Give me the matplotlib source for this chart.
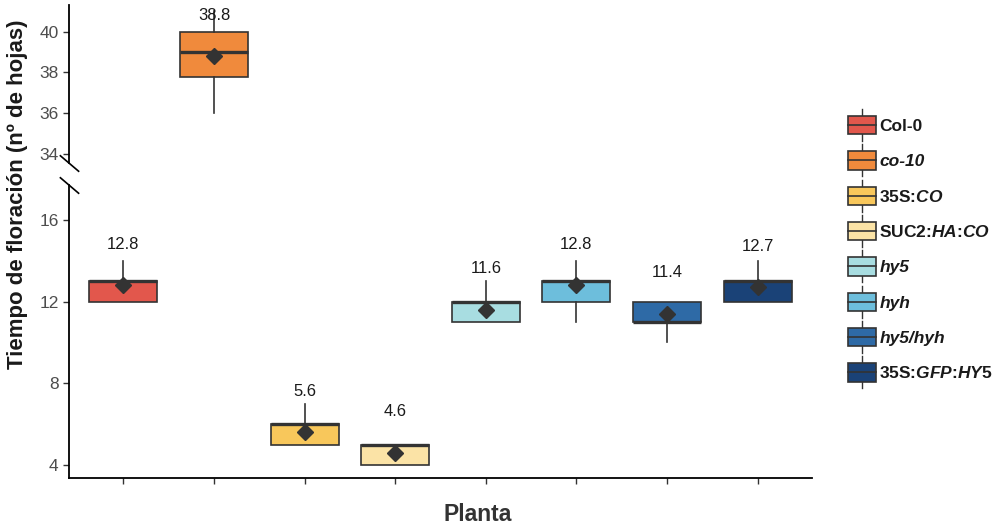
import numpy as np
import matplotlib
matplotlib.use("Agg")
import matplotlib.pyplot as plt
from matplotlib.legend_handler import HandlerBase
from matplotlib.patches import Rectangle
from matplotlib.lines import Line2D

plt.rcParams['font.family'] = ['Liberation Sans', 'DejaVu Sans']
plt.rcParams['mathtext.fontset'] = 'custom'
plt.rcParams['mathtext.rm'] = 'Liberation Sans:bold'
plt.rcParams['mathtext.it'] = 'Liberation Sans:italic:bold'
plt.rcParams['mathtext.bf'] = 'Liberation Sans:bold'

# data (leaves)
plantas = ['Col-0', 'co-10', '35S:CO', 'SUC2:HA:CO', 'hy5', 'hyh', 'hy5/hyh', '35S:GFP:HY5']
leyenda = ['Col-0', 'co-10', r'35S:$\mathit{CO}$', r'SUC2:$\mathit{HA}$:$\mathit{CO}$',
           'hy5', 'hyh', 'hy5/hyh', r'35S:$\mathit{GFP}$:$\mathit{HY5}$']
cursiva = [False, True, False, False, True, True, True, False]
whislo = [12, 36, 5, 4, 11, 11, 10, 12]
q1 = [12, 37.75, 5, 4, 11, 12, 11, 12]
med = [13, 39, 6, 5, 12, 13, 11, 13]
q3 = [13, 40, 6, 5, 12, 13, 12, 13]
whishi = [14, 41, 7, 5, 13, 14, 12, 14]
media = [12.8, 38.8, 5.6, 4.6, 11.6, 12.8, 11.4, 12.7]
colores = ['#E2574C', '#F08A3C', '#F8C75B', '#FBE3A6', '#A8DDE1', '#6DBEDC', '#2E6AA6', '#1A4277']

edge = '#333333'
fig = plt.figure(figsize=(10.04, 5.32), dpi=100)
ax_top = fig.add_axes([0.0687, 0.6936, 0.74, 0.297])
ax_bot = fig.add_axes([0.0687, 0.1015, 0.74, 0.5505])

pos = np.arange(1, len(plantas) + 1)
stats = [dict(whislo=whislo[i], q1=q1[i], med=med[i], q3=q3[i], whishi=whishi[i], fliers=[])
         for i in range(len(plantas))]

for ax in (ax_top, ax_bot):
    b = ax.bxp(stats, positions=pos, widths=0.75, patch_artist=True, showcaps=False,
               boxprops=dict(edgecolor=edge, linewidth=1.2),
               medianprops=dict(color=edge, linewidth=2.4),
               whiskerprops=dict(color=edge, linewidth=1.2))
    for p, c in zip(b['boxes'], colores):
        p.set_facecolor(c)
    ax.plot(pos, media, 'D', color=edge, markersize=8, zorder=5)
    for x, m in zip(pos, media):
        ax.text(x, m + 2, f'{m:.1f}', ha='center', va='center', fontsize=12, color='#1a1a1a')
    ax.set_xlim(0.4, 8.6)
    for s in ('top', 'right'):
        ax.spines[s].set_visible(False)
    ax.spines['left'].set_linewidth(1.3)
    ax.spines['bottom'].set_linewidth(1.3)
    ax.tick_params(axis='y', labelsize=12.5, labelcolor='#4d4d4d', length=4, width=1, color='#333333')

ax_top.set_ylim(33.56, 41.3)
ax_top.set_yticks([34, 36, 38, 40])
ax_top.spines['bottom'].set_visible(False)
ax_top.set_xticks([])

ax_bot.set_ylim(3.36, 17.7)
ax_bot.set_yticks([4, 8, 12, 16])
ax_bot.set_xticks(pos)
ax_bot.tick_params(axis='x', length=4, width=1, color='#333333', labelbottom=False)

# break marks
kw = dict(marker=[(-1, 0.85), (1, -0.85)], markersize=14, linestyle='none',
          color='k', mec='k', mew=1.2, clip_on=False)
ax_top.plot([0], [0], transform=ax_top.transAxes, **kw)
ax_bot.plot([0], [1], transform=ax_bot.transAxes, **kw)

fig.text(0.017, 0.635, 'Tiempo de floración (nº de hojas)', rotation=90, ha='center', va='center',
         fontsize=16, fontweight='bold', color='#1a1a1a')
fig.text(0.476, 0.032, 'Planta', ha='center', va='center', fontsize=16.5, fontweight='bold', color='#333333')


class BoxHandler(HandlerBase):
    def __init__(self, color):
        super().__init__()
        self.color = color

    def create_artists(self, legend, orig, xd, yd, w, h, fs, trans):
        x0, y0 = -xd, -yd
        cx = x0 + w / 2
        r = Rectangle((x0, y0), w, h, facecolor=self.color, edgecolor=edge,
                      linewidth=1.2, transform=trans)
        m = Line2D([x0, x0 + w], [y0 + 0.5 * h] * 2, color=edge, linewidth=1.2, transform=trans)
        up = Line2D([cx, cx], [y0 + h, y0 + h + 5], color=edge, linewidth=1.0, transform=trans)
        dn = Line2D([cx, cx], [y0, y0 - 5], color=edge, linewidth=1.0, transform=trans)
        return [up, dn, r, m]


fs_leg = 12.5
handles = [Rectangle((0, 0), 1, 1) for _ in plantas]
leg = fig.legend(handles, leyenda, loc='upper left', bbox_to_anchor=(0.8446, 0.782), frameon=False,
                 handler_map={h: BoxHandler(c) for h, c in zip(handles, colores)},
                 borderpad=0, borderaxespad=0,
                 handlelength=20 / fs_leg, handleheight=15.5 / fs_leg, labelspacing=12.3 / fs_leg,
                 handletextpad=0.2, prop=dict(size=fs_leg, weight='bold'))
for t, it in zip(leg.get_texts(), cursiva):
    t.set_color('#1a1a1a')
    if it:
        t.set_fontstyle('italic')

fig.savefig('out.png', dpi=100)
